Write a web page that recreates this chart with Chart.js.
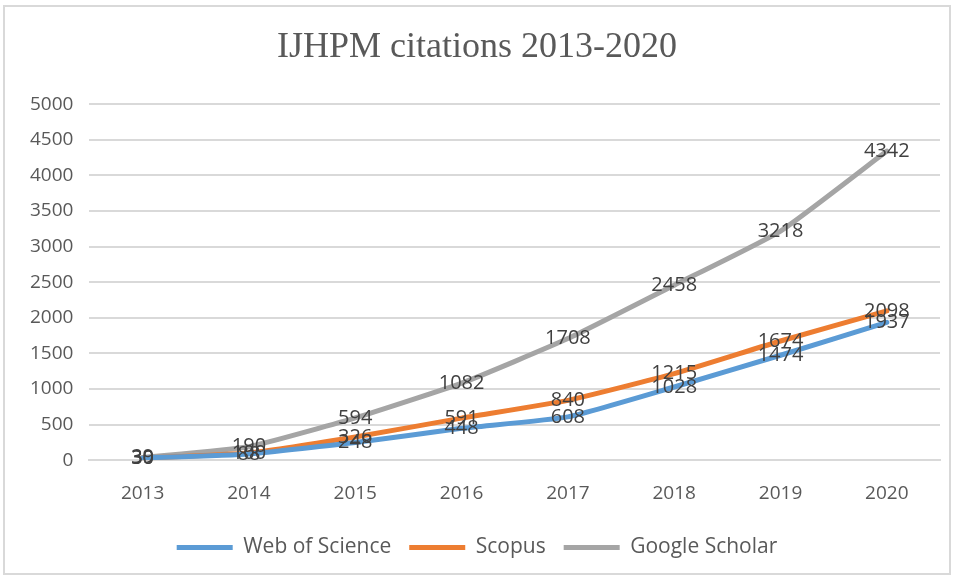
<!DOCTYPE html>
<html>
<head>
<meta charset="utf-8">
<script src="https://cdn.jsdelivr.net/npm/chart.js@4/dist/chart.umd.min.js"></script>
<style>
  html, body { margin: 0; padding: 0; background: #fff; }
  #wrap { width: 954px; height: 578px; position: relative; }
</style>
</head>
<body>
<div id="wrap"><canvas id="chart"></canvas></div>
<script>
const years = ['2013', '2014', '2015', '2016', '2017', '2018', '2019', '2020'];
const webOfScience = [30, 88, 248, 448, 608, 1028, 1474, 1937];
const scopus = [30, 100, 326, 591, 840, 1215, 1674, 2098];
const googleScholar = [39, 190, 594, 1082, 1708, 2458, 3218, 4342];

// draws values on the points, like the Excel data labels
const valueLabels = {
    id: 'valueLabels',
    afterDatasetsDraw(chart) {
        const ctx = chart.ctx;
        ctx.save();
        ctx.font = '20px "Open Sans", sans-serif';
        ctx.fillStyle = '#404040';
        ctx.textAlign = 'center';
        ctx.textBaseline = 'middle';
        chart.data.datasets.forEach((ds, i) => {
            chart.getDatasetMeta(i).data.forEach((pt, j) => {
                ctx.fillText(ds.data[j], pt.x, pt.y);
            });
        });
        ctx.restore();
    }
};

const frame = {
    id: 'frame',
    beforeDraw(chart) {
        const ctx = chart.ctx;
        ctx.save();
        ctx.fillStyle = '#fff';
        ctx.fillRect(0, 0, chart.width, chart.height);
        ctx.strokeStyle = '#d9d9d9';
        ctx.lineWidth = 2;
        ctx.strokeRect(4, 6, chart.width - 8, chart.height - 10);
        ctx.restore();
    }
};

const tickFont = { family: '"Open Sans", sans-serif', size: 19 };

new Chart(document.getElementById('chart'), {
    type: 'line',
    data: {
        labels: years,
        datasets: [
            { label: 'Web of Science', data: webOfScience, borderColor: '#5B9BD5', backgroundColor: '#5B9BD5', borderWidth: 5 },
            { label: 'Scopus', data: scopus, borderColor: '#ED7D31', backgroundColor: '#ED7D31', borderWidth: 5 },
            { label: 'Google Scholar', data: googleScholar, borderColor: '#A5A5A5', backgroundColor: '#A5A5A5', borderWidth: 5 }
        ]
    },
    options: {
        responsive: true,
        maintainAspectRatio: false,
        animation: false,
        elements: {
            line: { tension: 0.15, borderCapStyle: 'round' },
            point: { radius: 0 }
        },
        layout: { padding: { left: 14, right: 14, top: 26, bottom: 10 } },
        plugins: {
            title: {
                display: true,
                text: 'IJHPM citations 2013-2020',
                color: '#595959',
                font: { family: '"Liberation Serif", "Times New Roman", serif', size: 36, weight: 'normal' },
                padding: { top: 0, bottom: 35 }
            },
            legend: {
                position: 'bottom',
                labels: {
                    color: '#595959',
                    font: { family: '"Open Sans", sans-serif', size: 21 },
                    usePointStyle: true,
                    pointStyle: 'line',
                    pointStyleWidth: 56,
                    padding: 18
                }
            },
            tooltip: { enabled: false }
        },
        scales: {
            x: {
                offset: true,
                grid: { display: false },
                border: { color: '#d9d9d9', width: 2 },
                ticks: { color: '#595959', font: tickFont, padding: 14 }
            },
            y: {
                min: 0,
                max: 5000,
                ticks: {
                    stepSize: 500,
                    color: '#595959',
                    font: tickFont,
                    padding: 16,
                    callback: v => String(v)
                },
                grid: { color: '#d9d9d9', lineWidth: 2, drawTicks: false },
                border: { display: false }
            }
        }
    },
    plugins: [frame, valueLabels]
});
</script>
</body>
</html>
